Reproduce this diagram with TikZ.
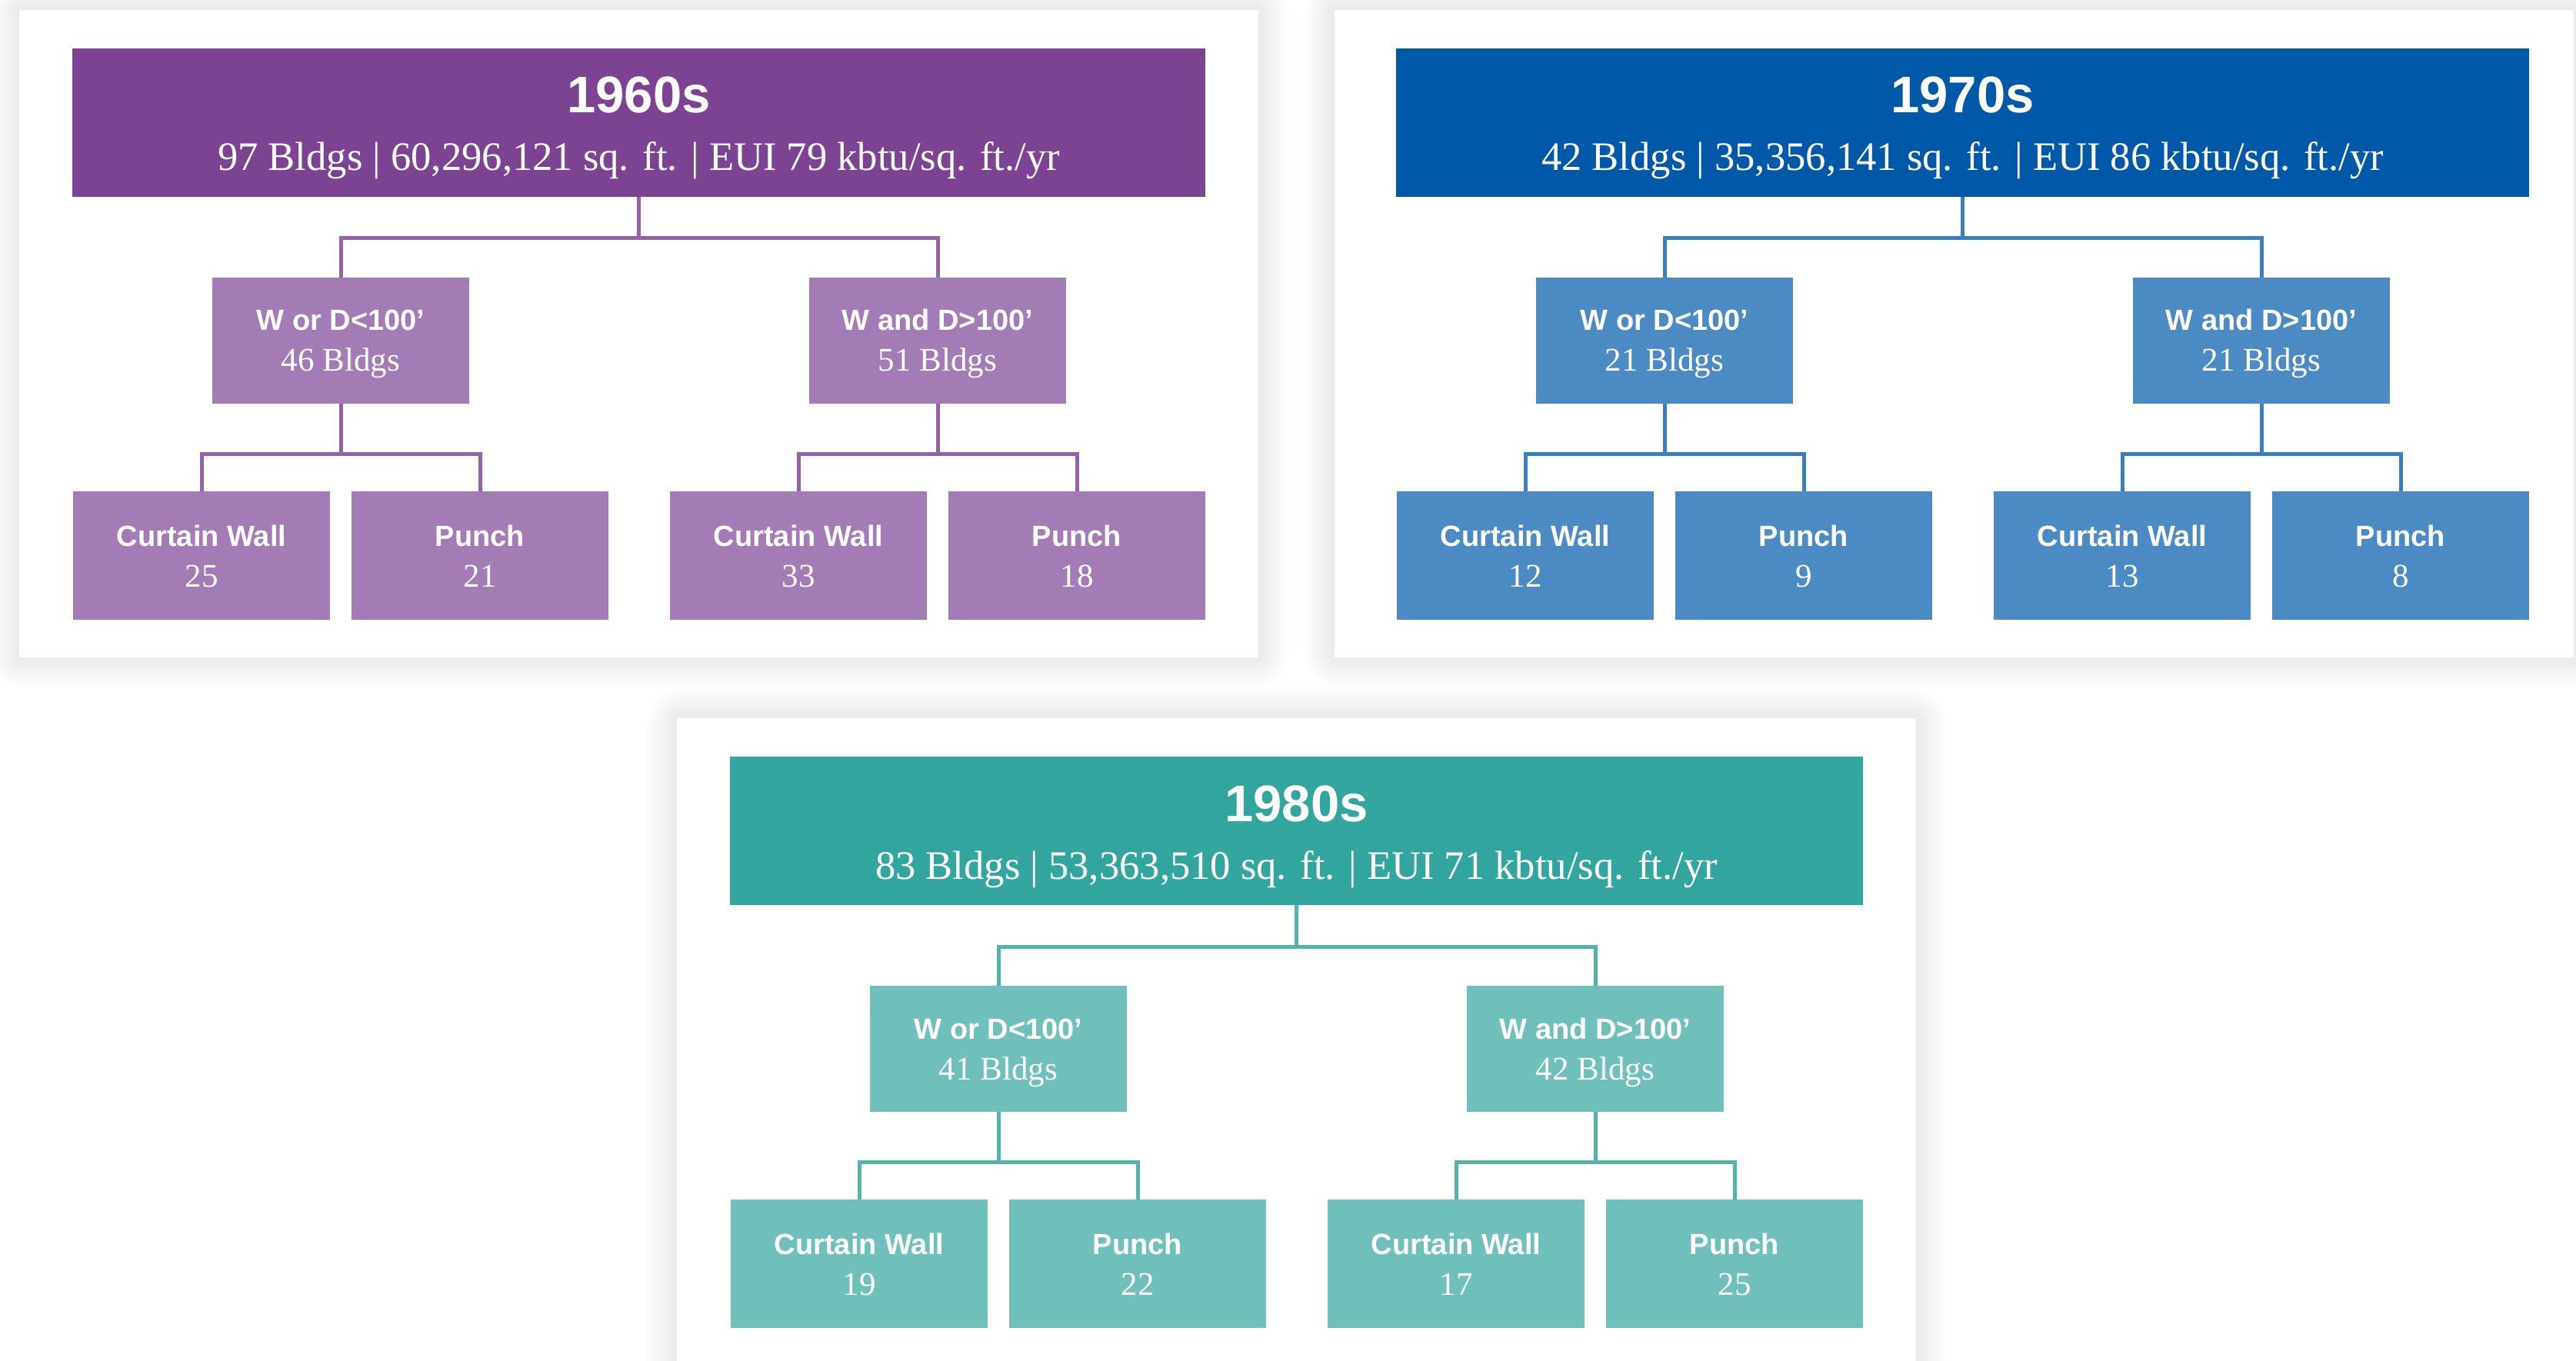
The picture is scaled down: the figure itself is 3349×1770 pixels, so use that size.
\documentclass[tikz,border=0pt]{standalone}
\usepackage{fontspec}
\setmainfont{Liberation Serif}
\newfontfamily\arialf{Liberation Sans}
\definecolor{purH}{HTML}{7C4393}
\definecolor{purB}{HTML}{A37BB5}
\definecolor{purL}{HTML}{9462A8}
\definecolor{bluH}{HTML}{0059A8}
\definecolor{bluB}{HTML}{4C8AC4}
\definecolor{bluL}{HTML}{3A7EC0}
\definecolor{teaH}{HTML}{33A59F}
\definecolor{teaB}{HTML}{6FBFBA}
\definecolor{teaL}{HTML}{52B2AC}
\colorlet{hdrc}{purH}
\colorlet{boxc}{purB}
\colorlet{linec}{purL}
\tikzset{
  hdr/.style={fill=hdrc, minimum width=736.5pt, minimum height=96.5pt, inner sep=0pt, outer sep=0pt},
  midbox/.style={fill=boxc, minimum width=167pt, minimum height=82pt, inner sep=0pt, outer sep=0pt},
  botbox/.style={fill=boxc, minimum width=167pt, minimum height=83.5pt, inner sep=0pt, outer sep=0pt},
  conn/.style={draw=linec, line width=2.5pt},
  ttl/.style={text=white, anchor=base, inner sep=0pt, font=\arialf\bfseries\fontsize{33.5}{40}\selectfont},
  subt/.style={text=white, anchor=base, inner sep=0pt, font=\fontsize{26.3}{31}\selectfont},
  lab/.style={text=white, anchor=base, inner sep=0pt, font=\arialf\bfseries\fontsize{19}{23}\selectfont},
  num/.style={text=white, anchor=base, inner sep=0pt, font=\fontsize{21.5}{26}\selectfont},
  card/.style={fill=white, draw=none}
}
\newcommand\cardshadow[4]{%
  \foreach \i [evaluate=\i as \rr using \i*2.5] in {1,...,10}{%
    \fill[black, opacity=0.009, rounded corners=\rr pt] (#1-\i*4,#2-\i*4) rectangle (#3+\i*4,#4+\i*4);
  }%
}
\newcommand\orgpanel[9]{%
  \node[hdr] (#1h) at (830.5,159.5) {};
  \node[ttl] (#1t) at (830.5,147) {#2};
  \node[subt] (#1s) at (830.5,222) {#3};
  \node[midbox] (#1ml) at (443,443) {};
  \node[midbox] (#1mr) at (1219,443) {};
  \node[lab] (#1mlA) at (443,430) {W or D<100’};
  \node[num] (#1mlB) at (443,483) {#4 Bldgs};
  \node[lab] (#1mrA) at (1219,430) {W and D>100’};
  \node[num] (#1mrB) at (1219,483) {#5 Bldgs};
  \node[botbox] (#1b1) at (262,722.5) {};
  \node[botbox] (#1b2) at (624,722.5) {};
  \node[botbox] (#1b3) at (1038,722.5) {};
  \node[botbox] (#1b4) at (1400,722.5) {};
  \node[lab] (#1b1A) at (262,710) {Curtain Wall};
  \node[num] (#1b1B) at (262,763) {#6};
  \node[lab] (#1b2A) at (624,710) {Punch};
  \node[num] (#1b2B) at (624,763) {#7};
  \node[lab] (#1b3A) at (1038,710) {Curtain Wall};
  \node[num] (#1b3B) at (1038,763) {#8};
  \node[lab] (#1b4A) at (1400,710) {Punch};
  \node[num] (#1b4B) at (1400,763) {#9};
  \draw[conn] (#1h.south) -- ++(0,54) -| (#1ml.north);
  \draw[conn] (#1h.south) -- ++(0,54) -| (#1mr.north);
  \draw[conn] (#1ml.south) -- ++(0,65) -| (#1b1.north);
  \draw[conn] (#1ml.south) -- ++(0,65) -| (#1b2.north);
  \draw[conn] (#1mr.south) -- ++(0,65) -| (#1b3.north);
  \draw[conn] (#1mr.south) -- ++(0,65) -| (#1b4.north);
}
\begin{document}
\begin{tikzpicture}[x=0.5pt,y=-0.5pt]
\useasboundingbox (0,0) rectangle (3349,1770);
\fill[white] (0,0) rectangle (3349,1770);
\begin{scope}
\clip (0,0) rectangle (3349,1770);
\cardshadow{25}{13}{1636}{855}
\cardshadow{1735}{13}{3346}{855}
\cardshadow{880}{934}{2491}{1800}
\fill[card] (25,13) rectangle (1636,855);
\fill[card] (1735,13) rectangle (3346,855);
\fill[card] (880,934) rectangle (2491,1800);
\end{scope}
\begin{scope}
\orgpanel{a}{1960s}{97 Bldgs | 60,296,121 sq. ft. | EUI 79 kbtu/sq. ft./yr}{46}{51}{25}{21}{33}{18}
\end{scope}
\colorlet{hdrc}{bluH}\colorlet{boxc}{bluB}\colorlet{linec}{bluL}
\begin{scope}[shift={(1721,0)}]
\orgpanel{b}{1970s}{42 Bldgs | 35,356,141 sq. ft. | EUI 86 kbtu/sq. ft./yr}{21}{21}{12}{9}{13}{8}
\end{scope}
\colorlet{hdrc}{teaH}\colorlet{boxc}{teaB}\colorlet{linec}{teaL}
\begin{scope}[shift={(855,921)}]
\orgpanel{c}{1980s}{83 Bldgs | 53,363,510 sq. ft. | EUI 71 kbtu/sq. ft./yr}{41}{42}{19}{22}{17}{25}
\end{scope}
\end{tikzpicture}
\end{document}
